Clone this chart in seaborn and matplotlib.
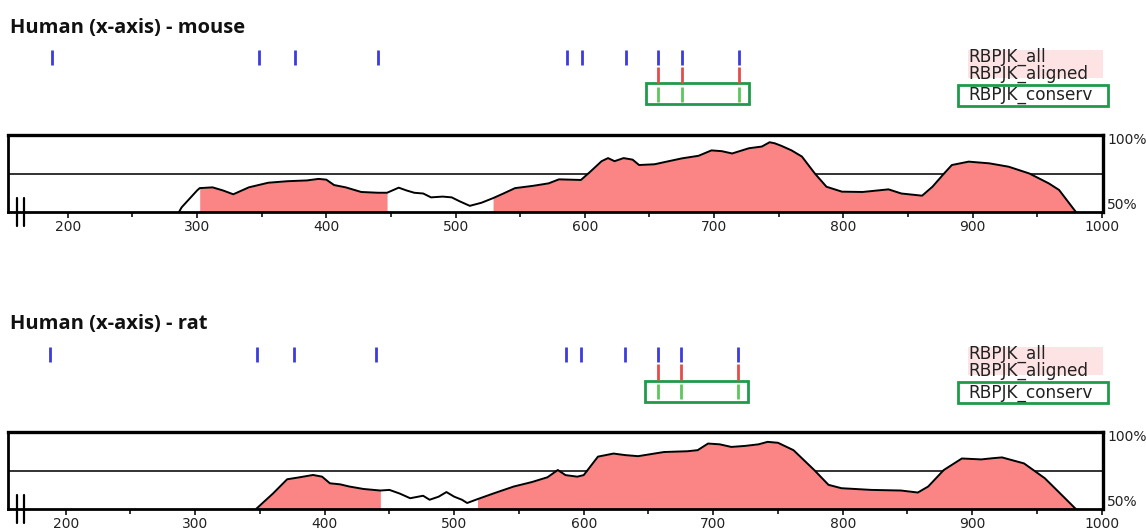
import numpy as np
import pandas as pd
import matplotlib
matplotlib.use("Agg")
import matplotlib.pyplot as plt
import seaborn as sns
from matplotlib.patches import Rectangle
from matplotlib.lines import Line2D

sns.set_style("white")
plt.rcParams['font.family'] = ['DejaVu Sans']

# ---------------- data ----------------
titles = ["Human (x-axis) - mouse", "Human (x-axis) - rat"]
site_all = [188, 348, 376, 440, 586, 598, 632, 657, 675, 719]
site_aligned = [657, 675, 719]
site_conserv = [657, 675, 719]
legend_labels = ["RBPJK_all", "RBPJK_aligned", "RBPJK_conserv"]
x_ticks = [200, 300, 400, 500, 600, 700, 800, 900, 1000]
y_labels = ["100%", "50%"]

mouse_pos = [286, 288, 300, 302, 312, 320, 328, 340, 355, 370, 385, 394, 400, 406, 415,
             427, 440, 447, 456, 462, 468, 475, 481, 490, 497, 503, 511, 520, 529, 537,
             546, 560, 572, 580, 597, 604, 613, 618, 623, 630, 637, 642, 654, 665, 675,
             688, 698, 706, 714, 727, 737, 743, 747, 752, 760, 768, 778, 787, 799, 815,
             835, 845, 861, 869, 878, 884, 897, 913, 928, 944, 959, 967, 980]
mouse_ident = [50, 53, 64, 65.5, 66, 64, 61.5, 66, 69, 70, 70.5, 71.5, 71, 67.5, 66,
               63, 62.5, 62.5, 65.8, 64, 62.5, 62, 59.5, 60, 59.5, 57, 54, 56, 59, 62,
               65.5, 67, 68.6, 71.2, 70.8, 76, 83, 85, 83, 85, 84, 80.5, 81, 83, 84.8,
               86.5, 90, 89.5, 88, 91.4, 92.5, 95.3, 94.6, 93, 90, 86, 75, 66.4, 63.2, 63,
               64.7, 62, 60.6, 66.4, 75, 80.5, 82.7, 81.6, 79.4, 75, 68.6, 64.3, 50]
mouse_ecr = [(302, 447), (529, 980)]

rat_pos = [347, 360, 371, 380, 391, 398, 404, 412, 419, 430, 443, 450, 458, 466, 476,
           481, 488, 494, 500, 506, 510, 518, 530, 546, 560, 572, 580, 586, 595, 600,
           611, 623, 632, 642, 662, 680, 688, 696, 705, 714, 725, 735, 742, 750, 762,
           778, 789, 799, 822, 845, 858, 866, 878, 892, 907, 916, 923, 940, 956, 969, 980]
rat_ident = [50, 60, 69.3, 70.5, 72.1, 71, 66.7, 66, 64.6, 63, 62, 62.4, 60, 57, 58.6,
             56, 58, 61, 58, 56, 53.9, 56.4, 60, 64.6, 67.5, 70.6, 75.3, 72, 71, 72,
             84, 86, 85, 84.3, 87, 87.5, 88.2, 92.5, 92, 90.3, 91, 92, 93.6, 93, 88.2,
             75.3, 65.7, 63.5, 62.4, 62, 60.7, 64.6, 75.3, 82.8, 82.2, 83, 83.5, 79.6, 70, 59.2, 50]
rat_ecr = [(347, 443), (518, 980)]

panels = [
    dict(title=titles[0], pos=mouse_pos, ident=mouse_ident, ecr=mouse_ecr, dy=0, xlim=(153.9, 1001.2)),
    dict(title=titles[1], pos=rat_pos, ident=rat_ident, ecr=rat_ecr, dy=297, xlim=(155.7, 1001.2)),
]

# ---------------- layout ----------------
W, H = 1146, 531
fig = plt.figure(figsize=(W / 100, H / 100), dpi=100)
fig.patch.set_facecolor("white")


def fx(px):
    return px / W


def fy(py):
    return 1 - py / H


BLUE = "#3b3be0"
RED = "#e44c4c"
GREEN_TICK = "#5cc85c"
GREEN_BOX = "#1f9a4a"
FILL = "#fa8584"
PINK_BG = "#fde3e3"

for p in panels:
    dy = p["dy"]
    # title
    fig.text(fx(10), fy(32.5 + dy), p["title"], fontsize=14.5, fontweight="bold",
             family=["Open Sans", "DejaVu Sans"], ha="left", va="baseline", color="#111111")

    # site marks axes
    m_top, m_bot = 45 + dy, 110 + dy
    axm = fig.add_axes([fx(8.3), fy(m_bot), fx(1095), (m_bot - m_top) / H])
    axm.set_xlim(*p["xlim"])
    axm.set_ylim(m_bot, m_top)
    axm.set_axis_off()
    axm.vlines(site_all, 50 + dy, 65 + dy, colors=BLUE, lw=2)
    axm.vlines(site_aligned, 67 + dy, 83 + dy, colors=RED, lw=2)
    axm.vlines(site_conserv, 87 + dy, 102 + dy, colors=GREEN_TICK, lw=2)
    bx0, bx1 = min(site_conserv) - 10, max(site_conserv) + 8
    axm.add_patch(Rectangle((bx0, 83.5 + dy), bx1 - bx0, 21, fill=False,
                            edgecolor=GREEN_BOX, lw=2))

    # legend texts
    fig.add_artist(Rectangle((fx(968), fy(78 + dy)), fx(1103 - 968), 28 / H,
                             transform=fig.transFigure, facecolor=PINK_BG, edgecolor="none"))
    fig.add_artist(Rectangle((fx(958), fy(106 + dy)), fx(1108 - 958), 21 / H,
                             transform=fig.transFigure, fill=False, edgecolor=GREEN_BOX, lw=2))
    for lab, yc in zip(legend_labels, [57, 74, 95.5]):
        fig.text(fx(968), fy(yc + dy), lab, fontsize=12.2, ha="left", va="center",
                 color="#222222")

    # identity plot
    b_top, b_bot = 135 + dy, 212 + dy
    ax = fig.add_axes([fx(8.3), fy(b_bot), fx(1095), (b_bot - b_top) / H])
    ax.set_xlim(*p["xlim"])
    ax.set_ylim(50, 100)
    pos = np.array(p["pos"], dtype=float)
    ident = np.array(p["ident"], dtype=float)
    ax.axhline(75, color="#222222", lw=1.3, zorder=1)
    for a, b in p["ecr"]:
        ax.fill_between(pos, 50, ident, where=(pos >= a) & (pos <= b),
                        color=FILL, lw=0, zorder=2)
    df = pd.DataFrame({"pos": pos, "ident": ident})
    sns.lineplot(data=df, x="pos", y="ident", ax=ax, color="black", lw=1.4,
                 estimator=None, sort=False, zorder=3)
    ax.set_xlabel("")
    ax.set_ylabel("")
    ax.set_yticks([])
    ax.set_xticks(x_ticks)
    ax.set_xticklabels([str(t) for t in x_ticks])
    ax.set_xticks(np.arange(250, 1000, 100), minor=True)
    ax.tick_params(axis="x", which="major", direction="out", length=4, width=1.3,
                   labelsize=10, pad=1.5, colors="#222222", bottom=True)
    ax.tick_params(axis="x", which="minor", direction="out", length=3.5, width=1.3,
                   bottom=True, colors="#222222")
    for s in ax.spines.values():
        s.set_visible(True)
        s.set_color("black")
        s.set_linewidth(2.0)
    ax.spines["top"].set_linewidth(2.4)
    ax.spines["right"].set_linewidth(2.4)

    # right % labels
    fig.text(fx(1107), fy(133 + dy), y_labels[0], fontsize=10, ha="left", va="top",
             color="#222222")
    fig.text(fx(1107), fy(205 + dy), y_labels[1], fontsize=10, ha="left", va="center",
             color="#222222")

    # axis break marks
    for bx in (17.3, 24):
        fig.add_artist(Line2D([fx(bx), fx(bx)], [fy(198 + dy), fy(226 + dy)],
                              transform=fig.transFigure, color="black", lw=1.6))

fig.savefig("out.png", dpi=100, facecolor="white")
